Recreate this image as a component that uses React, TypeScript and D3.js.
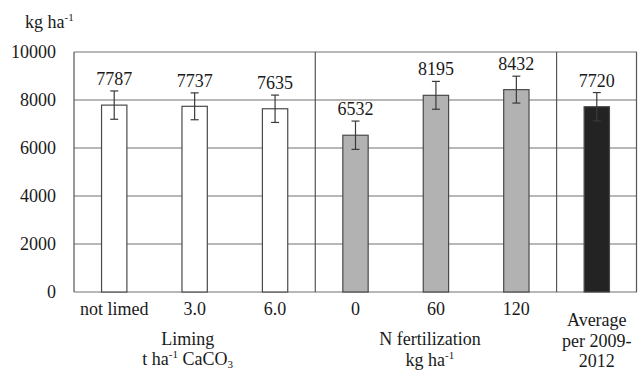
import React from "react";
import * as d3 from "d3";

// chart data
const categories = ["not limed", "3.0", "6.0", "0", "60", "120", "avg"];
const yields = [7787, 7737, 7635, 6532, 8195, 8432, 7720];
const errors = [590, 560, 570, 590, 580, 560, 590];
const groupOf = ["lime", "lime", "lime", "n", "n", "n", "avg"];
const yTicks = [0, 2000, 4000, 6000, 8000, 10000];
const avgLabelLines = ["Average", "per 2009-", "2012"];

const W = 638;
const H = 371;
const margin = { left: 74, right: 1, top: 52, bottom: 79 };
const FONT = "Liberation Serif";

const fills: Record<string, string> = { lime: "#ffffff", n: "#b2b2b2", avg: "#232323" };

const App = () => {
  const x = d3
    .scaleBand<number>()
    .domain(d3.range(categories.length))
    .range([margin.left, W - margin.right]);
  const y = d3
    .scaleLinear()
    .domain([0, 10000])
    .range([H - margin.bottom, margin.top]);

  const step = x.bandwidth();
  const barW = step * 0.315;
  const cx = (i: number) => (x(i) as number) + step / 2;
  const sepX = [x(3) as number, x(6) as number];
  const plotR = W - margin.right;

  return (
    <svg
      width={W}
      height={H}
      style={{ position: "absolute", left: 0, top: 0, background: "#fff" }}
      fontFamily={FONT}
      fontSize={18}
      fill="#1a1a1a"
    >
      {/* unit label */}
      <text x={25} y={28}>
        kg ha
        <tspan fontSize={11} dy={-7}>-1</tspan>
      </text>

      {/* grid lines */}
      {yTicks.map(t => (
        <line
          key={t}
          x1={margin.left}
          x2={plotR}
          y1={y(t)}
          y2={y(t)}
          stroke="#707070"
          strokeWidth={1.2}
        />
      ))}
      {yTicks.map(t => (
        <text key={"l" + t} x={56} y={y(t) + 6} textAnchor="end">
          {t}
        </text>
      ))}

      {/* frame and group separators */}
      {[margin.left, ...sepX, plotR - 0.5].map((sx, i) => (
        <line
          key={"s" + i}
          x1={sx}
          x2={sx}
          y1={y(10000)}
          y2={y(0)}
          stroke="#555"
          strokeWidth={1.2}
        />
      ))}

      {/* bars */}
      {yields.map((v, i) => (
        <rect
          key={"b" + i}
          x={cx(i) - barW / 2}
          y={y(v)}
          width={barW}
          height={y(0) - y(v)}
          fill={fills[groupOf[i]]}
          stroke="#4a4a4a"
          strokeWidth={1.2}
        />
      ))}

      {/* error bars */}
      {yields.map((v, i) => (
        <g key={"e" + i} stroke="#3a3a3a" strokeWidth={1.2}>
          <line x1={cx(i)} x2={cx(i)} y1={y(v + errors[i])} y2={y(v - errors[i])} />
          <line x1={cx(i) - 4} x2={cx(i) + 4} y1={y(v + errors[i])} y2={y(v + errors[i])} />
          <line x1={cx(i) - 4} x2={cx(i) + 4} y1={y(v - errors[i])} y2={y(v - errors[i])} />
        </g>
      ))}

      {/* value labels */}
      {yields.map((v, i) => (
        <text key={"v" + i} x={cx(i)} y={y(v + errors[i]) - 6} textAnchor="middle">
          {v}
        </text>
      ))}

      {/* category labels */}
      {categories.map((c, i) =>
        groupOf[i] === "avg" ? (
          <text key={"c" + i} x={cx(i)} textAnchor="middle">
            {avgLabelLines.map((l, k) => (
              <tspan key={k} x={cx(i)} y={326 + k * 20.5}>
                {l}
              </tspan>
            ))}
          </text>
        ) : (
          <text key={"c" + i} x={cx(i)} y={315} textAnchor="middle">
            {c}
          </text>
        )
      )}

      {/* group labels */}
      <text x={(margin.left + sepX[0]) / 2 - 7} y={345} textAnchor="middle">
        Liming
      </text>
      <text x={(margin.left + sepX[0]) / 2 - 7} y={365} textAnchor="middle">
        t ha
        <tspan fontSize={11} dy={-7}>-1</tspan>
        <tspan dy={7}> CaCO</tspan>
        <tspan fontSize={11} dy={3}>3</tspan>
      </text>
      <text x={(sepX[0] + sepX[1]) / 2 - 6} y={345} textAnchor="middle">
        N fertilization
      </text>
      <text x={(sepX[0] + sepX[1]) / 2 - 6} y={366} textAnchor="middle">
        kg ha
        <tspan fontSize={11} dy={-7}>-1</tspan>
      </text>
    </svg>
  );
};

export default App;
